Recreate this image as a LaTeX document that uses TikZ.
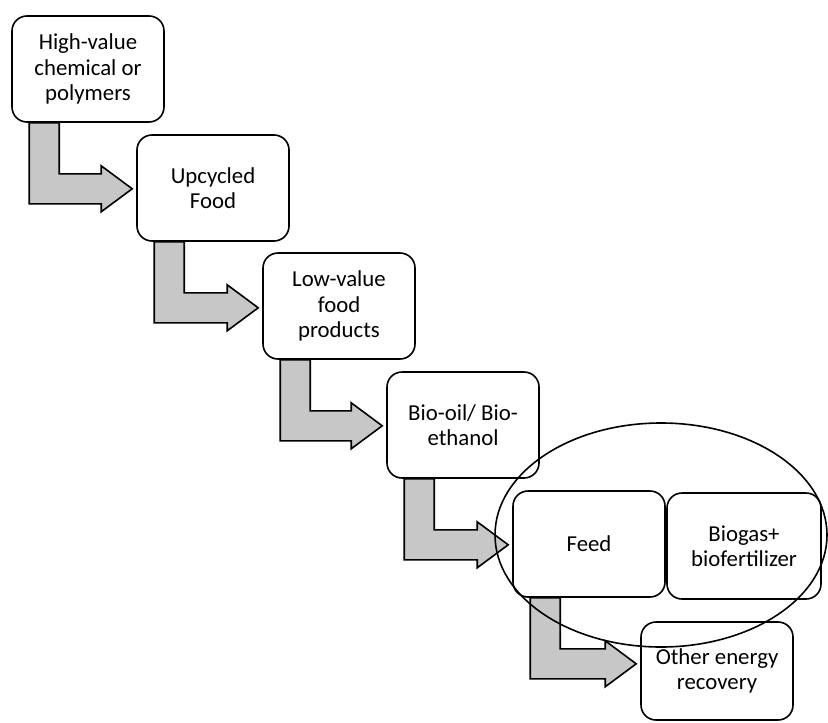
\documentclass[tikz,border=0pt]{standalone}
\usepackage{fontspec}
\setmainfont{Carlito}
\usepackage{xcolor}
\colorlet{colorArrow}{black!22}
\usepackage{tikz}
\usetikzlibrary{calc, shapes.geometric}
\tikzset{
  stage/.style={draw, thick, rounded corners=7.5pt, fill=white, align=center,
    minimum width=76pt, minimum height=53pt, inner sep=2pt,
    font=\fontsize{11.4}{12.6}\selectfont},
  flowarrow/.style={draw, thick, fill=colorArrow, line join=miter}
}
% bent block arrow from the bottom of #1 to the left side of #2
\newcommand{\bentarrow}[2]{%
  \draw[flowarrow] let \p1=(#1.south west), \p2=(#2.west) in
    (\x1+9pt,\y1) -- (\x1+9pt,\y1-40.5pt) -- (\x2-17.5pt,\y1-40.5pt)
    -- (\x2-17.5pt,\y1-44.5pt) -- (\x2-2pt,\y1-33pt) -- (\x2-17.5pt,\y1-21.5pt)
    -- (\x2-17.5pt,\y1-25.5pt) -- (\x1+24pt,\y1-25.5pt) -- (\x1+24pt,\y1) -- cycle;}

\begin{document}
\begin{tikzpicture}[x=0.5pt, y=-0.5pt]
\useasboundingbox (0,0) rectangle (828,722);
\node[stage] (high) at (88,69) {High-value\\chemical or\\polymers};
\node[stage] (upcycled) at (213,188) {Upcycled\\Food};
\node[stage] (low) at (339,306) {Low-value\\food\\products};
\node[stage] (biooil) at (463,425) {Bio-oil/ Bio-\\ethanol};
\node[stage] (feed) at (589,544) {Feed};
\node[stage, minimum width=77pt] (biogas) at (744,546) {Biogas+\\biofertilizer};
\node[stage, minimum height=49pt] (energy) at (717,671) {Other energy\\recovery};
\bentarrow{high}{upcycled}
\bentarrow{upcycled}{low}
\bentarrow{low}{biooil}
\bentarrow{biooil}{feed}
\bentarrow{feed}{energy}
\node[draw, thick, ellipse, minimum width=166pt, minimum height=112pt, inner sep=0pt] (group) at (661,535) {};
\end{tikzpicture}
\end{document}
